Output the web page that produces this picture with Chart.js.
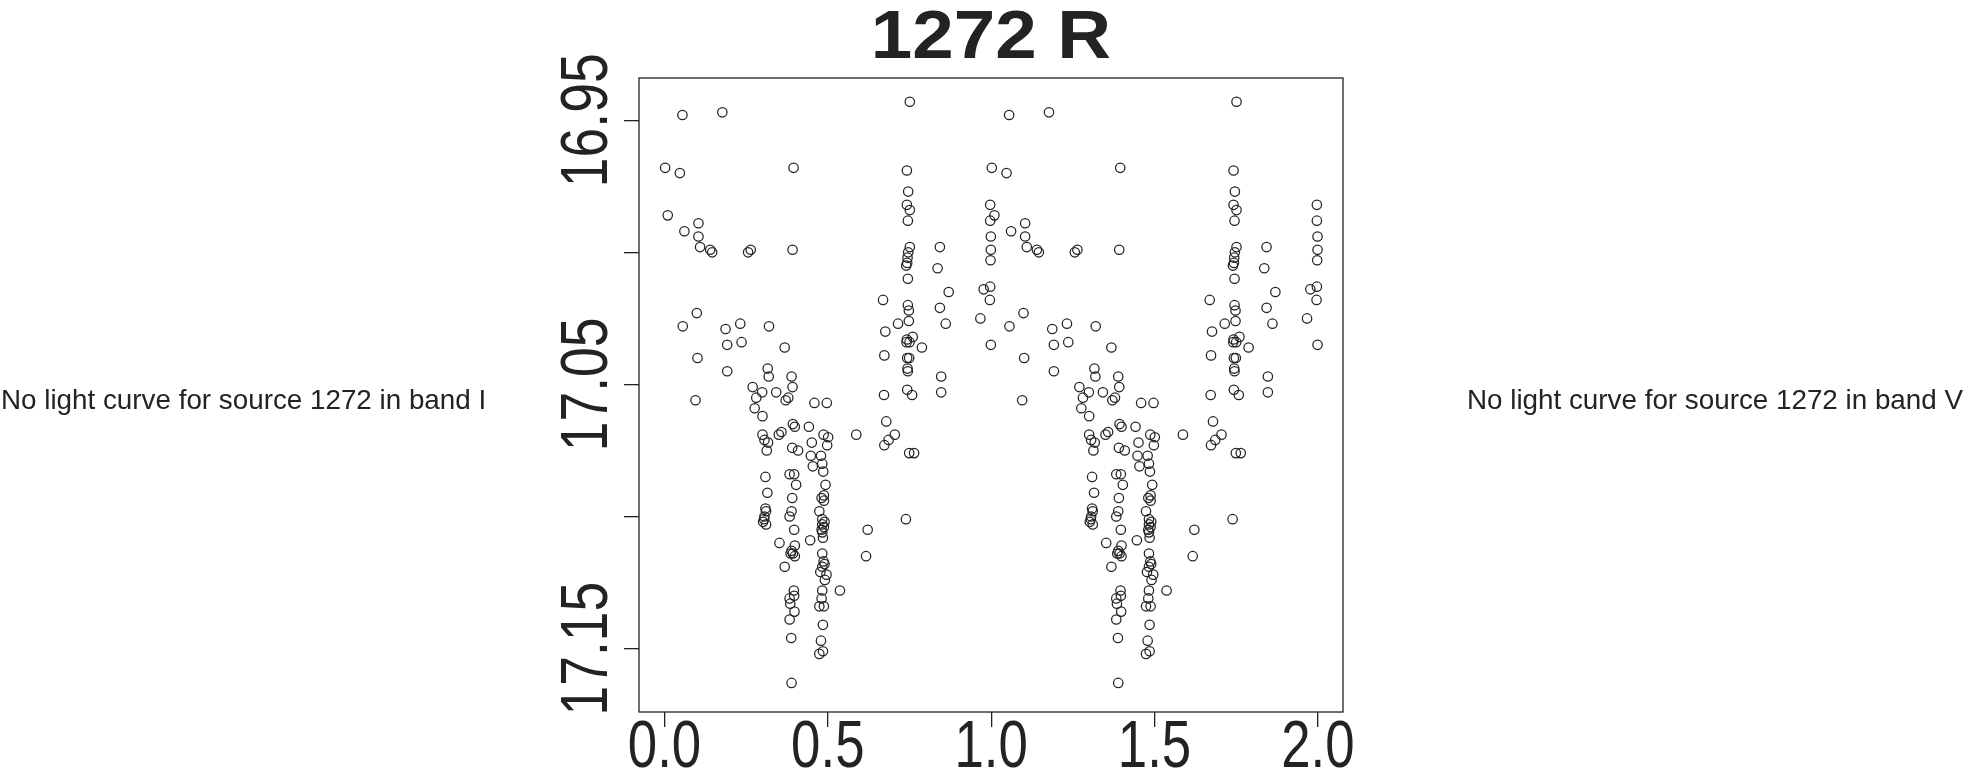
<!DOCTYPE html>
<html>
<head>
<meta charset="utf-8">
<script src="https://cdn.jsdelivr.net/npm/chart.js@4.4.1/dist/chart.umd.min.js"></script>
<style>
html,body{margin:0;padding:0;background:#fff;}
#c{display:block;}
</style>
</head>
<body>
<canvas id="c" width="1965" height="770"></canvas>
<script>
// ---- data (phase of first cycle, magnitude) ----
const phase = [
0.002,0.010,0.047,0.055,0.061,0.104,0.104,0.109,0.140,0.146,0.177,0.256,0.264,0.392,0.395,
0.751,0.742,0.746,0.742,0.751,0.745,0.751,0.746,0.744,0.743,0.740,0.745,0.843,0.836,0.870,
0.997,0.997,0.999,0.999,0.998,0.997,0.977,
0.099,0.056,0.187,0.232,0.320,0.192,0.236,0.368,0.101,0.192,0.316,0.319,0.270,0.299,0.281,
0.342,0.371,0.379,0.095,0.276,0.300,0.300,0.306,0.317,0.313,0.350,0.358,0.309,0.315,
0.669,0.715,0.676,0.673,0.672,0.679,0.705,0.686,0.673,0.389,0.392,0.459,0.497,0.393,0.399,
0.442,0.487,0.501,0.587,0.451,0.498,0.391,0.409,0.448,0.479,0.483,0.454,0.486,0.383,0.397,
0.403,0.493,0.391,0.481,0.488,
0.996,0.745,0.748,0.843,0.748,0.861,0.967,0.999,0.742,0.760,0.750,0.741,0.788,0.743,0.749,
0.744,0.745,0.847,0.743,0.758,0.847,0.749,0.764,
0.309,0.311,0.306,0.305,0.311,0.302,0.352,0.368,
0.488,0.389,0.383,0.474,0.397,0.483,0.490,0.483,0.481,0.488,0.483,0.485,0.622,0.446,0.399,
0.389,0.393,0.399,0.386,0.483,0.617,0.487,0.490,0.483,0.477,0.496,0.491,0.396,0.397,0.383,
0.385,0.398,0.383,0.483,0.481,0.474,0.488,0.537,0.485,0.388,0.479,0.474,0.485,0.389,0.739
];
const mag = [
16.968,16.986,16.970,16.948,16.992,16.989,16.994,16.998,16.999,17.000,16.947,17.000,16.999,16.999,16.968,
16.943,16.969,16.977,16.982,16.984,16.988,16.998,17.000,17.002,17.004,17.005,17.010,16.998,17.006,17.015,
16.982,16.988,16.994,16.999,17.003,17.013,17.014,
17.023,17.028,17.029,17.027,17.028,17.035,17.034,17.036,17.040,17.045,17.044,17.047,17.051,17.053,17.055,
17.053,17.056,17.055,17.056,17.059,17.062,17.069,17.071,17.072,17.075,17.069,17.068,17.085,17.091,
17.018,17.027,17.030,17.039,17.054,17.064,17.069,17.071,17.073,17.047,17.051,17.057,17.057,17.065,17.066,
17.066,17.069,17.070,17.069,17.072,17.073,17.074,17.075,17.077,17.077,17.080,17.081,17.083,17.084,17.084,
17.088,17.088,17.093,17.093,17.092,
17.018,17.020,17.022,17.021,17.026,17.027,17.025,17.035,17.033,17.032,17.034,17.034,17.036,17.040,17.040,
17.044,17.045,17.047,17.052,17.054,17.053,17.076,17.076,
17.097,17.098,17.100,17.101,17.103,17.102,17.110,17.119,
17.094,17.098,17.100,17.098,17.105,17.101,17.102,17.103,17.105,17.104,17.106,17.108,17.105,17.109,17.111,
17.113,17.114,17.115,17.114,17.114,17.115,17.117,17.118,17.119,17.121,17.122,17.124,17.128,17.130,17.131,
17.133,17.136,17.139,17.128,17.131,17.134,17.134,17.128,17.141,17.146,17.147,17.152,17.151,17.163,17.101
];
const cycles = [0, 1];               // phase is plotted twice: cycle 0 and cycle 1
const xTickValues = [0, 0.5, 1, 1.5, 2];
const xTickLabels = ["0.0", "0.5", "1.0", "1.5", "2.0"];
const yTickValues = [16.95, 17.00, 17.05, 17.10, 17.15];
const yLabelValues = [16.95, 17.05, 17.15];
const yLabelTexts = ["16.95", "17.05", "17.15"];
const titleText = "1272 R";
const leftNote = "No light curve for source 1272 in band I";
const rightNote = "No light curve for source 1272 in band V";

const INK = '#232323';

const datasets = cycles.map(c => ({
  data: phase.map((p, i) => ({x: p + c, y: mag[i]})),
  showLine: false,
  pointStyle: 'circle',
  pointRadius: 4.7,
  pointBorderWidth: 1.25,
  borderColor: INK,
  backgroundColor: 'rgba(0,0,0,0)',
  pointHoverRadius: 4.7
}));

function condensedText(ctx, text, x, y, sx, rot) {
  ctx.save();
  ctx.translate(x, y);
  if (rot) ctx.rotate(rot);
  ctx.scale(sx, 1);
  ctx.fillText(text, 0, 0);
  ctx.restore();
}

const decor = {
  id: 'decor',
  afterDraw(chart) {
    const ctx = chart.ctx;
    const a = chart.chartArea;
    const xs = chart.scales.x, ys = chart.scales.y;
    ctx.save();
    // frame
    ctx.strokeStyle = INK;
    ctx.lineWidth = 1.3;
    ctx.strokeRect(a.left, a.top, a.right - a.left, a.bottom - a.top);
    ctx.fillStyle = INK;
    // x labels
    ctx.font = '66px "Liberation Sans", Arial, sans-serif';
    ctx.textAlign = 'center';
    ctx.textBaseline = 'alphabetic';
    xTickValues.forEach((v, i) => {
      condensedText(ctx, xTickLabels[i], xs.getPixelForValue(v), 767, 0.8, 0);
    });
    // y labels (rotated)
    yLabelValues.forEach((v, i) => {
      condensedText(ctx, yLabelTexts[i], 607, ys.getPixelForValue(v), 0.81, -Math.PI / 2);
    });
    // title
    ctx.font = 'bold 69px "Liberation Sans", Arial, sans-serif';
    ctx.textAlign = 'center';
    condensedText(ctx, titleText, (a.left + a.right) / 2, 58, 1.08, 0);
    // side notes
    ctx.font = '27.8px "Liberation Sans", Arial, sans-serif';
    ctx.textBaseline = 'middle';
    ctx.textAlign = 'left';
    ctx.fillText(leftNote, 1, 401);
    ctx.textAlign = 'right';
    ctx.fillText(rightNote, 1963, 401);
    ctx.restore();
  }
};

new Chart(document.getElementById('c'), {
  type: 'scatter',
  data: { datasets },
  options: {
    responsive: false,
    animation: false,
    devicePixelRatio: 1,
    events: [],
    layout: { padding: { left: 0, right: 622, top: 78, bottom: 0 } },
    plugins: { legend: { display: false }, tooltip: { enabled: false }, title: { display: false } },
    scales: {
      x: {
        type: 'linear', min: -0.078, max: 2.077,
        afterBuildTicks: s => { s.ticks = xTickValues.map(v => ({value: v})); },
        afterFit: s => { s.height = 58; },
        ticks: { display: false },
        border: { display: false },
        grid: { drawOnChartArea: false, drawTicks: true, tickLength: 15, color: INK, lineWidth: 1.3 }
      },
      y: {
        type: 'linear', reverse: true, min: 16.934, max: 17.174,
        afterBuildTicks: s => { s.ticks = yTickValues.map(v => ({value: v})); },
        afterFit: s => { s.width = 639; },
        ticks: { display: false },
        border: { display: false },
        grid: { drawOnChartArea: false, drawTicks: true, tickLength: 15, color: INK, lineWidth: 1.3 }
      }
    }
  },
  plugins: [decor]
});
</script>
</body>
</html>
